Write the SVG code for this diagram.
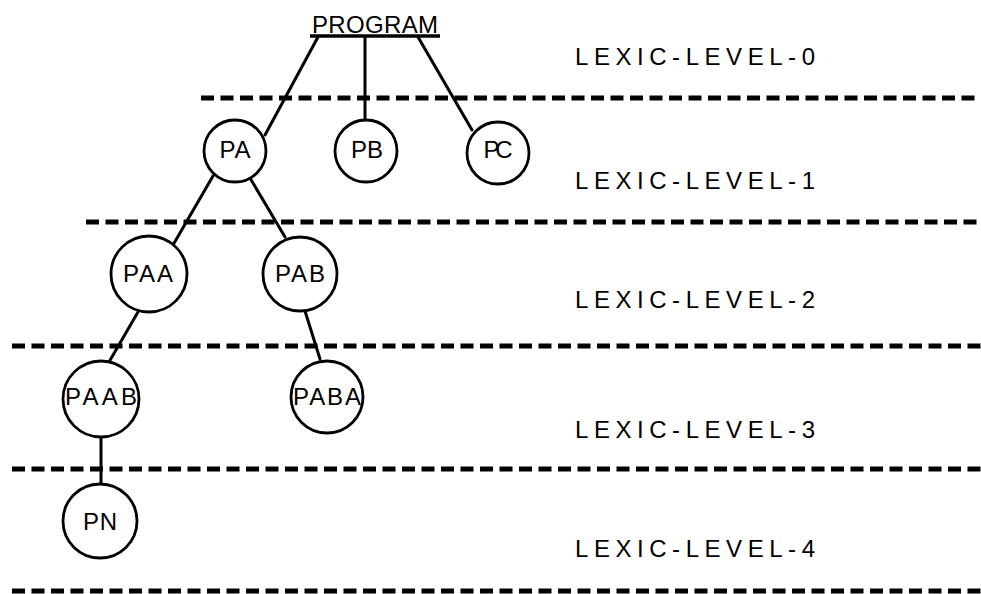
<svg xmlns="http://www.w3.org/2000/svg" width="981" height="594" viewBox="0 0 981 594">
  <style>
    .sep { stroke: #000; stroke-width: 5; stroke-dasharray: 13 6.5; fill: none; }
    .edge { stroke: #000; stroke-width: 3; fill: none; stroke-linecap: round; }
    .node circle { fill: #fff; stroke: #000; stroke-width: 2.8; }
    .lbl { font-family: "Liberation Sans Narrow", "Liberation Sans", "DejaVu Sans", sans-serif; font-size: 24px; fill: #000; }
    .node text { text-anchor: middle; }
  </style>
  <rect width="981" height="594" fill="#fff"/>

  <!-- level separators -->
  <g id="separators">
    <line class="sep" x1="201" y1="98" x2="981" y2="98"/>
    <line class="sep" x1="86" y1="222" x2="981" y2="222"/>
    <line class="sep" x1="12" y1="346" x2="981" y2="346"/>
    <line class="sep" x1="12" y1="469" x2="981" y2="469"/>
    <line class="sep" x1="12" y1="591" x2="981" y2="591"/>
  </g>

  <!-- level labels -->
  <g id="level-labels">
    <text class="lbl" x="575" y="65" textLength="240" lengthAdjust="spacing">LEXIC-LEVEL-0</text>
    <text class="lbl" x="575" y="189" textLength="240" lengthAdjust="spacing">LEXIC-LEVEL-1</text>
    <text class="lbl" x="575" y="308" textLength="240" lengthAdjust="spacing">LEXIC-LEVEL-2</text>
    <text class="lbl" x="575" y="438" textLength="240" lengthAdjust="spacing">LEXIC-LEVEL-3</text>
    <text class="lbl" x="575" y="557" textLength="240" lengthAdjust="spacing">LEXIC-LEVEL-4</text>
  </g>

  <!-- tree edges -->
  <g id="connectors">
    <line class="edge" x1="318" y1="37" x2="265" y2="135"/>
    <line class="edge" x1="365" y1="37" x2="365" y2="119"/>
    <line class="edge" x1="418" y1="37" x2="472" y2="130"/>
    <line class="edge" x1="213" y1="176" x2="173" y2="245"/>
    <line class="edge" x1="250" y1="178" x2="285" y2="237"/>
    <line class="edge" x1="138" y1="312" x2="109" y2="362"/>
    <line class="edge" x1="305" y1="311" x2="320" y2="359"/>
    <line class="edge" x1="101" y1="437" x2="101" y2="484"/>
  </g>

  <!-- root -->
  <g id="program">
    <text class="lbl" x="312" y="33" textLength="126" lengthAdjust="spacing">PROGRAM</text>
    <line x1="310" y1="36" x2="440" y2="36" stroke="#000" stroke-width="3.5"/>
  </g>

  <!-- lexic level 1 -->
  <g id="pa" class="node">
    <circle cx="235" cy="151" r="31"/>
    <text class="lbl" x="235" y="158" textLength="31" lengthAdjust="spacing">PA</text>
  </g>
  <g id="pb" class="node">
    <circle cx="366" cy="151" r="31"/>
    <text class="lbl" x="367" y="158" textLength="32" lengthAdjust="spacing">PB</text>
  </g>
  <g id="pc" class="node">
    <circle cx="498" cy="153" r="31"/>
    <text class="lbl" x="498" y="158" textLength="29" lengthAdjust="spacing">PC</text>
  </g>

  <!-- lexic level 2 -->
  <g id="paa" class="node">
    <circle cx="149" cy="274" r="38"/>
    <text class="lbl" x="148" y="282" textLength="50" lengthAdjust="spacing">PAA</text>
  </g>
  <g id="pab" class="node">
    <circle cx="300" cy="274" r="37"/>
    <text class="lbl" x="300" y="282" textLength="50" lengthAdjust="spacing">PAB</text>
  </g>

  <!-- lexic level 3 -->
  <g id="paab" class="node">
    <circle cx="101" cy="399" r="38"/>
    <text class="lbl" x="101" y="405" textLength="72" lengthAdjust="spacing">PAAB</text>
  </g>
  <g id="paba" class="node">
    <circle cx="327" cy="397" r="36"/>
    <text class="lbl" x="327" y="405" textLength="68" lengthAdjust="spacing">PABA</text>
  </g>

  <!-- lexic level 4 -->
  <g id="pn" class="node">
    <circle cx="100" cy="521" r="37"/>
    <text class="lbl" x="100" y="530" textLength="34" lengthAdjust="spacing">PN</text>
  </g>
</svg>
